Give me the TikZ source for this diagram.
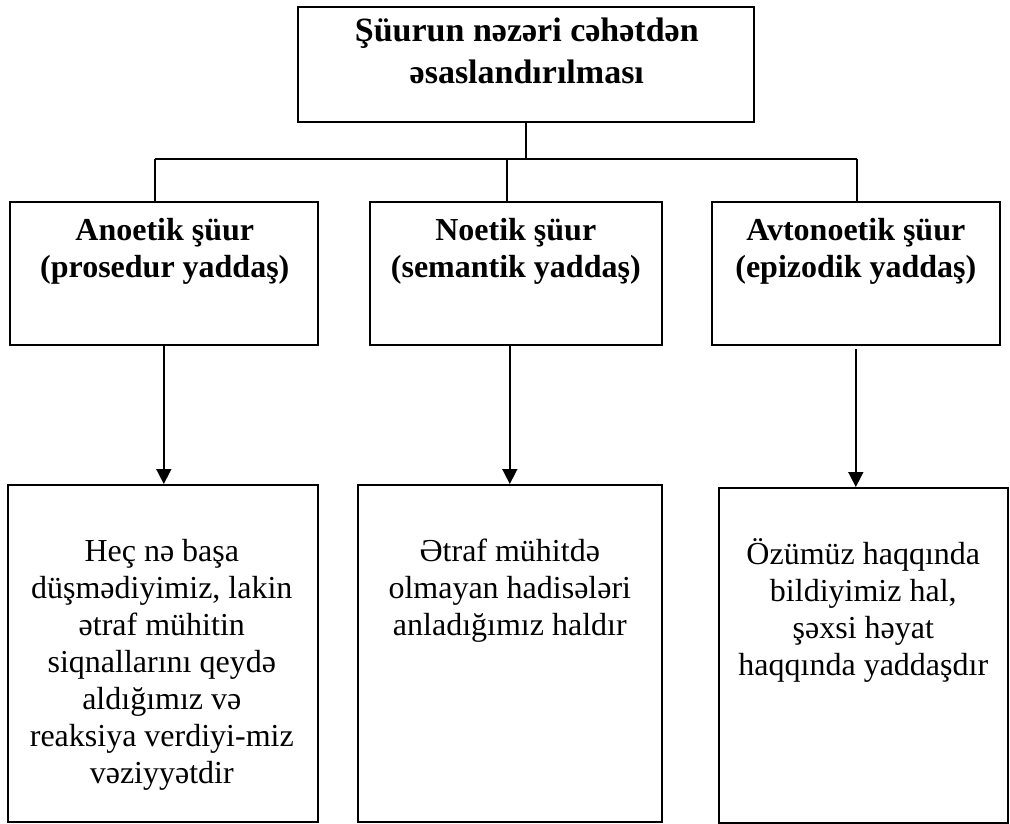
\documentclass[tikz,border=0pt]{standalone}
\usepackage{fontspec}
\setmainfont{Liberation Serif}
\usepackage{xcolor}
\usepackage{tikz}
\usetikzlibrary{arrows.meta, positioning, calc}
\definecolor{inkblack}{RGB}{0,0,0}
\tikzset{
  frame/.style={rectangle, draw=inkblack, line width=0.8pt, inner sep=0pt},
  headtext/.style={font=\fontsize{17}{21}\selectfont\bfseries,
    align=center, inner sep=0pt, anchor=base},
  kindtext/.style={font=\fontsize{16}{18.5}\selectfont\bfseries,
    align=center, inner sep=0pt, anchor=base},
  desctext/.style={font=\fontsize{16}{18.5}\selectfont,
    align=center, inner sep=0pt, anchor=base},
  arrow/.style={-{Triangle[width=7.5pt, length=7.5pt]}, line width=0.8pt, color=inkblack},
  line/.style={line width=0.8pt, color=inkblack}
}

\begin{document}
\begin{tikzpicture}[x=0.5pt, y=-0.5pt]
  \useasboundingbox (0,0) rectangle (1010,823);

  % Boxes
  \node[frame, anchor=north west, minimum width=228pt, minimum height=57.5pt] (top) at (297,6) {};
  \node[frame, anchor=north west, minimum width=154pt, minimum height=71.5pt] (anoetik) at (9,201) {};
  \node[frame, anchor=north west, minimum width=146pt, minimum height=71.5pt] (noetik) at (369,201) {};
  \node[frame, anchor=north west, minimum width=144pt, minimum height=71.5pt] (avtonoetik) at (711,201) {};
  \node[frame, anchor=north west, minimum width=155pt, minimum height=168.5pt] (anoetikdesc) at (7,484) {};
  \node[frame, anchor=north west, minimum width=152pt, minimum height=168.5pt] (noetikdesc) at (357,484) {};
  \node[frame, anchor=north west, minimum width=144.5pt, minimum height=167.5pt] (avtonoetikdesc) at (718,487) {};

  % Texts (base = last line)
  \node[headtext] (toptext) at ($(top.north)+(1,78)$) {Şüurun nəzəri cəhətdən\\əsaslandırılması};
  \node[kindtext] (anoetiktext) at ($(anoetik.north)+(1,77)$) {Anoetik şüur\\(prosedur yaddaş)};
  \node[kindtext] (noetiktext) at ($(noetik.north)+(0,77)$) {Noetik şüur\\(semantik yaddaş)};
  \node[kindtext] (avtonoetiktext) at ($(avtonoetik.north)+(0,77)$) {Avtonoetik şüur\\(epizodik yaddaş)};
  \node[desctext] (anoetikdesctext) at ($(anoetikdesc.north)+(-1,299)$) {Heç nə başa\\düşmədiyimiz, lakin\\ətraf mühitin\\siqnallarını qeydə\\aldığımız və\\reaksiya verdiyi-miz\\vəziyyətdir};
  \node[desctext] (noetikdesctext) at ($(noetikdesc.north)+(0,151)$) {Ətraf mühitdə\\olmayan hadisələri\\anladığımız haldır};
  \node[desctext] (avtonoetikdesctext) at ($(avtonoetikdesc.north)+(0,188)$) {Özümüz haqqında\\bildiyimiz hal,\\şəxsi həyat\\haqqında yaddaşdır};

  % Connectors
  \coordinate (busL) at (155,159);
  \coordinate (busM) at (507,159);
  \coordinate (busR) at (857,159);
  \draw[line] (top.south) -- (top.south |- busM);
  \draw[line] (busL) -- (busR);
  \draw[line] (busL) -- (busL |- anoetik.north);
  \draw[line] (busM) -- (busM |- noetik.north);
  \draw[line] (busR) -- (busR |- avtonoetik.north);

  % Arrows
  \draw[arrow] (anoetik.south) -- (anoetik.south |- anoetikdesc.north);
  \draw[arrow] (noetikdesc.north |- noetik.south) -- (noetikdesc.north);
  \draw[arrow] ([yshift=-1.5pt]avtonoetik.south) -- (avtonoetik.south |- avtonoetikdesc.north);
\end{tikzpicture}
\end{document}
